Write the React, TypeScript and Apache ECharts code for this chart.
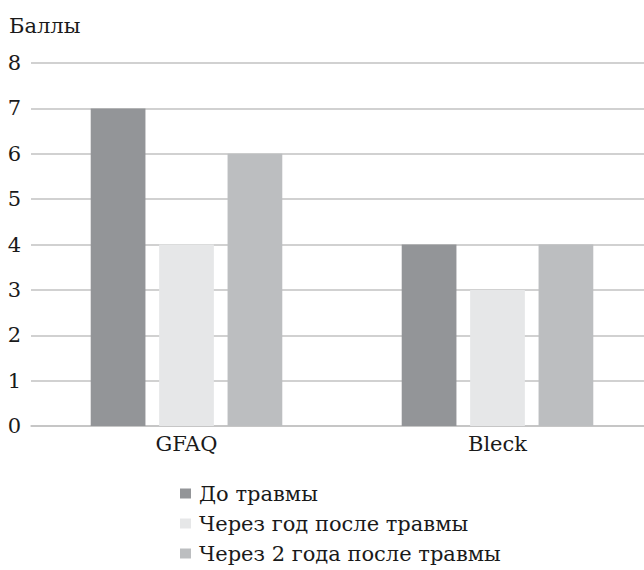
import React, { useEffect, useRef } from "react";
import * as echarts from "echarts";

const categories = ["GFAQ", "Bleck"];
const seriesNames = ["До травмы", "Через год после травмы", "Через 2 года после травмы"];
const beforeInjury = [7, 4];
const oneYearAfter = [4, 3];
const twoYearsAfter = [6, 4];
const yTicks = [0, 1, 2, 3, 4, 5, 6, 7, 8];
const colors = ["#939598", "#e6e7e8", "#bcbec0"];

const FONT = "DejaVu Serif";
const FS = 21;

export default function App() {
  const ref = useRef<HTMLDivElement>(null);
  useEffect(() => {
    if (!ref.current) return;
    const chart = echarts.init(ref.current, undefined, { renderer: "svg" });
    const values = [beforeInjury, oneYearAfter, twoYearsAfter];
    chart.setOption({
      animation: false,
      textStyle: { fontFamily: FONT, color: "#1a1a1a", fontSize: FS },
      grid: { left: 31, right: -9, top: 63, bottom: 144, containLabel: false, outerBoundsMode: "none" },
      legend: {
        orient: "vertical",
        left: 180,
        top: 483,
        padding: 0,
        itemWidth: 11,
        itemHeight: 10,
        itemGap: 9,
        icon: "rect",
        textStyle: { fontFamily: FONT, fontSize: FS, color: "#1a1a1a", padding: [0, 0, 0, 3] },
        data: seriesNames,
      },
      xAxis: {
        type: "category",
        data: categories,
        axisTick: { show: false },
        axisLine: { lineStyle: { color: "#c2c2c2", width: 1.5 } },
        axisLabel: { fontFamily: FONT, fontSize: FS, color: "#1a1a1a", margin: 7 },
      },
      yAxis: {
        type: "value",
        min: yTicks[0],
        max: yTicks[yTicks.length - 1],
        interval: 1,
        name: "Баллы",
        nameLocation: "end",
        nameGap: 27,
        nameTextStyle: { fontFamily: FONT, fontSize: FS, color: "#1a1a1a", align: "left", padding: [0, 0, 0, -22] },
        axisLine: { show: false },
        axisTick: { show: false },
        axisLabel: { fontFamily: FONT, fontSize: FS, color: "#1a1a1a", margin: 10 },
        splitLine: { lineStyle: { color: "#c2c2c2", width: 1.5 } },
      },
      series: seriesNames.map((name, i) => ({
        name,
        type: "bar",
        data: values[i],
        barGap: "25%",
        barCategoryGap: "38.4%",
        itemStyle: { color: colors[i] },
      })),
    });
    return () => chart.dispose();
  }, []);
  return (
    <div
      ref={ref}
      style={{ position: "fixed", left: 0, top: 0, width: 644, height: 570, background: "#fff" }}
    />
  );
}
